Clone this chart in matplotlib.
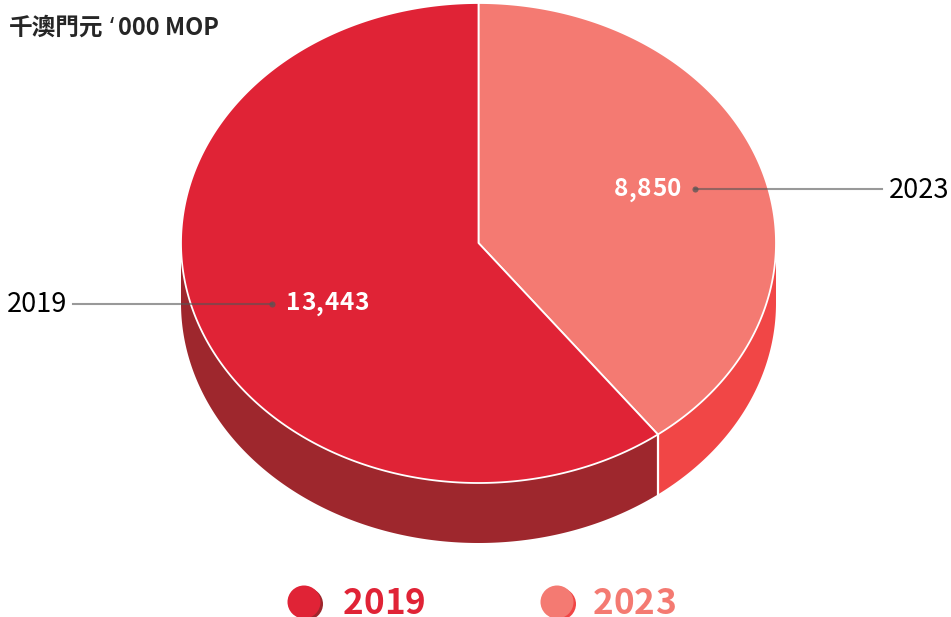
import numpy as np
import matplotlib
matplotlib.use("Agg")
import matplotlib.pyplot as plt
from matplotlib import font_manager as fm
from matplotlib.font_manager import FontProperties
from matplotlib.ft2font import LoadFlags
from matplotlib.patches import Circle, Polygon

plt.rcParams['font.family'] = ['Noto Sans CJK TC', 'DejaVu Sans']

years = ['2023', '2019']
values = [8850, 13443]
value_labels = ['8,850', '13,443']
unit_cjk = '千澳門元'
unit_quote = '‘'
unit_latin = '000 MOP'

top_colors = ['#F47A72', '#E02336']
side_colors = ['#F14646', '#9E272D']
legend_order = [1, 0]

# pie geometry, in pixels
cx, cy = 478.5, 243
rx, ry = 297.5, 240
depth = 60


def ellipse_pts(t, dy=0):
    # t is measured clockwise from the top of the pie
    return np.column_stack([cx + rx * np.sin(t), cy - ry * np.cos(t) + dy])


def spaced_text(x, y, s, tracking, size, color, zorder=6):
    # bold text drawn glyph by glyph, matplotlib has no letter spacing option
    fp = FontProperties(family='Noto Sans CJK TC', weight='bold', size=size)
    font = fm.get_font(fm.findfont(fp))
    font.set_size(size, 100)
    for ch in s:
        ax.text(x, y, ch, color=color, fontproperties=fp, ha='left', va='center', zorder=zorder)
        glyph = font.load_char(ord(ch), flags=LoadFlags.NO_HINTING)
        x += glyph.linearHoriAdvance / 65536 + tracking


fig = plt.figure(figsize=(9.51, 6.17), dpi=100)
ax = fig.add_axes([0, 0, 1, 1])
ax.set_xlim(0, 951)
ax.set_ylim(617, 0)
ax.axis('off')

edges = np.concatenate([[0], np.cumsum(values)]) / np.sum(values) * 2 * np.pi

# side wall: only the part of each slice facing the viewer (t between 90 and 270 deg)
for i in range(len(values)):
    a = max(edges[i], np.pi / 2)
    b = min(edges[i + 1], 3 * np.pi / 2)
    if b <= a:
        continue
    t = np.linspace(a, b, 200)
    wall = np.vstack([ellipse_pts(t), ellipse_pts(t[::-1], depth)])
    ax.add_patch(Polygon(wall, closed=True, fc=side_colors[i], ec='none', zorder=1))

# white seam where the two walls meet
seam = ellipse_pts(np.array([edges[1]]))[0]
ax.plot([seam[0], seam[0]], [seam[1], seam[1] + depth], color='white', lw=1.6, zorder=2)

# top face
for i in range(len(values)):
    t = np.linspace(edges[i], edges[i + 1], 400)
    face = np.vstack([[cx, cy], ellipse_pts(t)])
    ax.add_patch(Polygon(face, closed=True, fc=top_colors[i], ec='white', lw=1.3,
                         joinstyle='round', zorder=3))

# value labels with leader lines
spaced_text(613.5, 189.5, value_labels[0], 0.7, 17.5, 'white')
spaced_text(286, 303.5, value_labels[1], 0.7, 17.5, 'white')

line_color = '#555555'
ax.plot([695, 882], [188.5, 188.5], color=line_color, alpha=0.6, lw=1.5, zorder=4)
ax.plot([695], [188.5], 'o', color=line_color, ms=4.4, mew=0, alpha=0.75, zorder=5)
ax.text(889, 190, years[0], color='black', fontsize=19.5, ha='left', va='center', zorder=6)

ax.plot([73, 272], [303.5, 303.5], color=line_color, alpha=0.6, lw=1.5, zorder=4)
ax.plot([272], [303.5], 'o', color=line_color, ms=4.4, mew=0, alpha=0.75, zorder=5)
ax.text(67.5, 305, years[1], color='black', fontsize=19.5, ha='right', va='center', zorder=6)

# unit note, the quote comes from a font with a narrow glyph
title_color = '#262626'
ax.text(8.5, 28, unit_cjk, color=title_color, fontsize=17, fontweight='bold', ha='left', va='center')
ax.text(110, 28, unit_quote, color=title_color, fontsize=17, fontweight='bold', ha='left', va='center',
        family='Noto Sans')
ax.text(117.5, 28, unit_latin, color=title_color, fontsize=17, fontweight='bold', ha='left', va='center')

# legend, runs off the bottom edge
legend_x = [304, 557]
legend_text_x = [342.5, 592.5]
for x, tx, i in zip(legend_x, legend_text_x, legend_order):
    ax.add_patch(Circle((x + 3, 604), 16, fc=side_colors[i], ec='none', zorder=3))
    ax.add_patch(Circle((x, 602), 16.5, fc=top_colors[i], ec='none', zorder=4))
    spaced_text(tx, 603.5, years[i], 0.1, 25.3, top_colors[i], zorder=5)

fig.savefig('out.png', dpi=100, facecolor='white')
